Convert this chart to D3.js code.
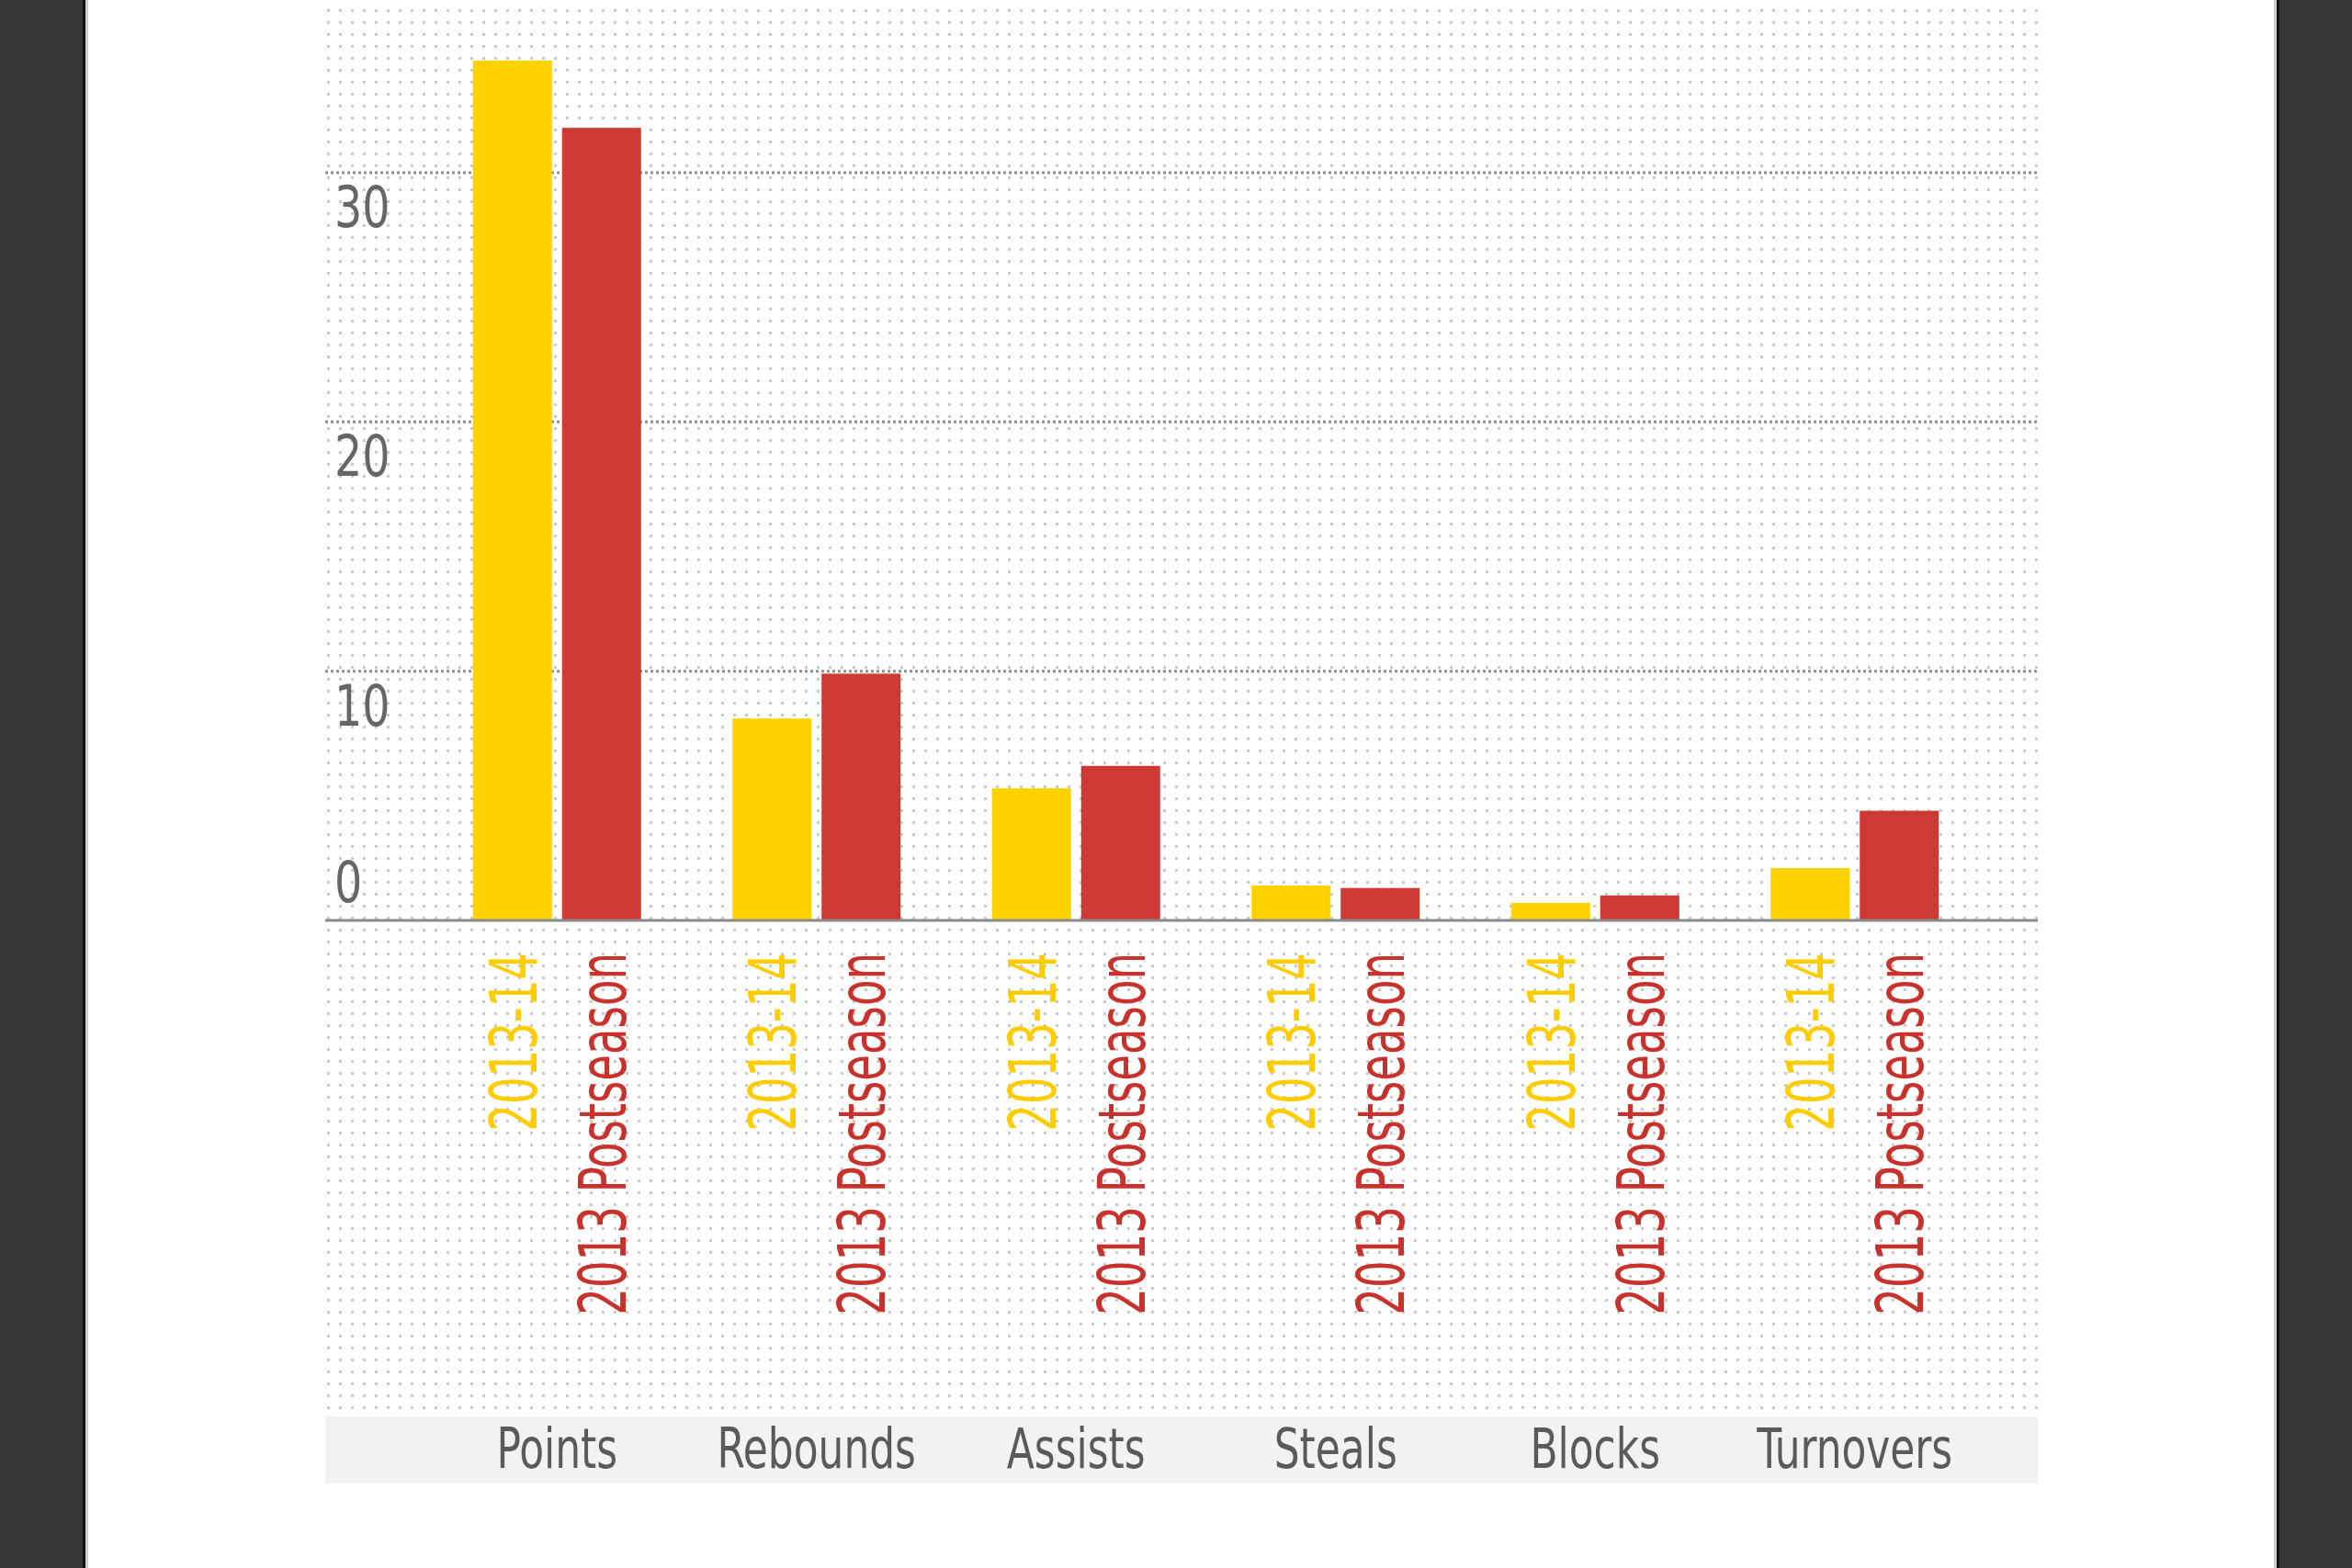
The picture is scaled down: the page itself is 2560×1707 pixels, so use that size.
<!DOCTYPE html>
<html lang="en">
  <head>
    <meta charset="utf-8" />
    <title>2013-14 vs 2013 Postseason</title>
    <script src="https://cdnjs.cloudflare.com/ajax/libs/d3/7.8.5/d3.min.js"></script>
    <style>
      html,
      body {
        margin: 0;
        padding: 0;
        background: #363636;
        overflow: hidden;
      }

      #bar_chart svg {
        display: block;
      }

      .label {
        font-family: 'Liberation Sans Narrow', 'Arial Narrow', 'DejaVu Sans Condensed', sans-serif;
        font-stretch: condensed;
      }
    </style>
  </head>

  <body>
    <div id="bar_chart"></div>

    <script type="text/javascript">
      // Chart data
      const categories = ['Points', 'Rebounds', 'Assists', 'Steals', 'Blocks', 'Turnovers']
      const seriesNames = ['2013-14', '2013 Postseason']
      const season = [34.5, 8.1, 5.3, 1.4, 0.7, 2.1]
      const postseason = [31.8, 9.9, 6.2, 1.3, 1.0, 4.4]
      const yTicks = [0, 10, 20, 30]

      const barColors = ['#FFD200', '#CC3A33']
      const textColors = ['#FFCC00', '#C8322D']

      var width = 2560,
        height = 1707

      // panel + plot box
      var panel = { left: 93, right: 2478 },
        plot = { left: 354, right: 2218, top: 0, bottom: 1537 },
        band = { top: 1542, bottom: 1615 }

      // the original face is much narrower than what is installed, squeeze it
      var squeeze = { tick: 0.84, cat: 0.8, series: 0.72 }

      var svg = d3
        .select('#bar_chart')
        .append('svg')
        .attr('width', width)
        .attr('height', height)
        .attr('viewBox', '0 0 ' + width + ' ' + height)

      // Dotted background pattern
      var defs = svg.append('defs')
      var pat = defs
        .append('pattern')
        .attr('id', 'dots')
        .attr('patternUnits', 'userSpaceOnUse')
        .attr('x', 5)
        .attr('y', 10)
        .attr('width', 13)
        .attr('height', 13)
      pat.append('rect').attr('width', 3).attr('height', 3).attr('fill', '#c9c9c9')

      // Page frame
      svg.append('rect').attr('x', 0).attr('y', 0).attr('width', width).attr('height', height).attr('fill', '#363636')
      svg
        .append('rect')
        .attr('x', panel.left - 3)
        .attr('y', 0)
        .attr('width', panel.right - panel.left + 6)
        .attr('height', height)
        .attr('fill', '#111')
      svg
        .append('rect')
        .attr('x', panel.left)
        .attr('y', 0)
        .attr('width', panel.right - panel.left)
        .attr('height', height)
        .attr('fill', '#ccc')
      svg
        .append('rect')
        .attr('x', panel.left + 3)
        .attr('y', 0)
        .attr('width', panel.right - panel.left - 6)
        .attr('height', height)
        .attr('fill', '#fff')

      // Plot background
      svg
        .append('rect')
        .attr('x', plot.left)
        .attr('y', plot.top)
        .attr('width', plot.right - plot.left)
        .attr('height', plot.bottom - plot.top)
        .attr('fill', 'url(#dots)')

      svg
        .append('rect')
        .attr('x', plot.left)
        .attr('y', band.top)
        .attr('width', plot.right - plot.left)
        .attr('height', band.bottom - band.top)
        .attr('fill', '#f2f2f2')

      // Scales
      var x = d3.scaleBand().domain(categories).range([465, 2160]).padding(0)

      var xSub = d3.scaleBand().domain(seriesNames).range([-91.5, 91.5]).paddingInner(0.113)

      var y = d3.scaleLinear().domain([0, 30]).range([1002, 188])

      // Gridlines
      svg
        .append('g')
        .selectAll('line')
        .data(yTicks.filter((d) => d > 0))
        .enter()
        .append('line')
        .attr('x1', plot.left)
        .attr('x2', plot.right)
        .attr('y1', (d) => y(d))
        .attr('y2', (d) => y(d))
        .attr('stroke', '#8f8f8f')
        .attr('stroke-width', 3)
        .attr('stroke-dasharray', '3,3')

      // Y axis labels (the zero label is kept above the base line)
      svg
        .append('g')
        .selectAll('text')
        .data(yTicks)
        .enter()
        .append('text')
        .attr('class', 'label')
        .attr(
          'transform',
          (d) => 'translate(364,' + Math.min(y(d) + 59, y(0) - 20) + ') scale(' + squeeze.tick + ',1)'
        )
        .attr('font-size', 63)
        .attr('fill', '#666')
        .text((d) => d)

      // Bars
      var rows = categories.map(function (c, i) {
        return { cat: c, values: [season[i], postseason[i]] }
      })

      var groups = svg
        .append('g')
        .selectAll('g')
        .data(rows)
        .enter()
        .append('g')
        .attr('transform', (d) => 'translate(' + (x(d.cat) + x.bandwidth() / 2) + ',0)')

      groups
        .selectAll('rect')
        .data((d) => d.values.map((v, j) => ({ name: seriesNames[j], value: v, idx: j })))
        .enter()
        .append('rect')
        .attr('x', (d) => xSub(d.name))
        .attr('y', (d) => y(d.value))
        .attr('width', xSub.bandwidth())
        .attr('height', (d) => y(0) - y(d.value))
        .attr('fill', (d) => barColors[d.idx])

      // Rotated series labels under each bar
      groups
        .selectAll('text')
        .data(seriesNames)
        .enter()
        .append('text')
        .attr('class', 'label')
        .attr(
          'transform',
          (d) =>
            'translate(' + (xSub(d) + xSub.bandwidth() / 2) + ',1037) rotate(-90) scale(' + squeeze.series + ',1)'
        )
        .attr('text-anchor', 'end')
        .attr('dy', '0.36em')
        .attr('font-size', 72)
        .attr('fill', (d, j) => textColors[j])
        .text((d) => d)

      // Base line
      svg
        .append('line')
        .attr('x1', plot.left)
        .attr('x2', plot.right)
        .attr('y1', y(0))
        .attr('y2', y(0))
        .attr('stroke', '#8a8a8a')
        .attr('stroke-width', 3)

      // Category labels
      svg
        .append('g')
        .selectAll('text')
        .data(categories)
        .enter()
        .append('text')
        .attr('class', 'label')
        .attr('transform', (d) => 'translate(' + (x(d) + x.bandwidth() / 2) + ',1598) scale(' + squeeze.cat + ',1)')
        .attr('text-anchor', 'middle')
        .attr('font-size', 61)
        .attr('fill', '#5a5a5a')
        .text((d) => d)
    </script>
  </body>
</html>
